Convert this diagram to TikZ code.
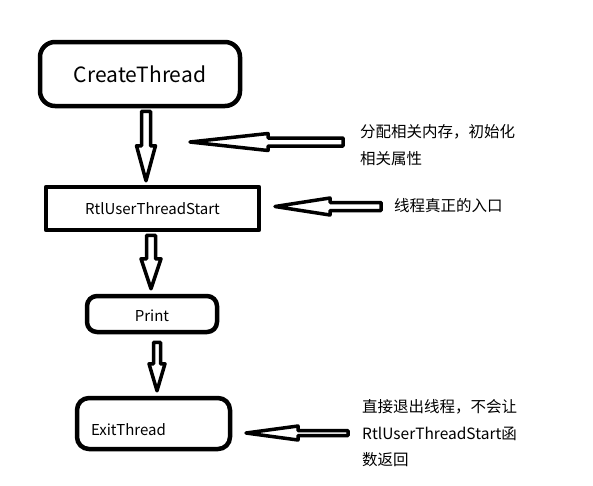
\documentclass[tikz,border=0pt]{standalone}
\usepackage{fontspec}
\setmainfont{Noto Sans CJK SC}
\usetikzlibrary{calc}
\newcommand{\hollowarrow}[5]{%
  \coordinate (hb) at ($(#2)!#3!(#1)$);
  \draw[fat] ($(#1)!#4!90:(#2)$) -- ($(hb)!#4!-90:(#1)$) -- ($(hb)!#5!-90:(#1)$) -- (#2)
    -- ($(hb)!#5!90:(#1)$) -- ($(hb)!#4!90:(#1)$) -- ($(#1)!#4!-90:(#2)$) -- cycle;}
\begin{document}
\begin{tikzpicture}[x=1pt, y=-1pt, line join=round,
  box/.style={draw, line width=4.5pt, inner sep=0pt, font=\fontsize{15}{18}\selectfont},
  fat/.style={draw, line width=3.5pt, fill=white},
  note/.style={anchor=west, align=left, inner sep=0pt, font=\fontsize{15.5}{26.5}\selectfont}]
\useasboundingbox (0,0) rectangle (593,485);
\node[box, rounded corners=15pt, minimum width=200pt, minimum height=64pt, font=\fontsize{21}{24}\selectfont] (create) at (140,74) {CreateThread};
\node[box, minimum width=213pt, minimum height=43pt] (rtl) at (152.5,208.5) {RtlUserThreadStart};
\node[box, rounded corners=10pt, minimum width=130pt, minimum height=36pt, text height=15pt, text depth=0pt] (print) at (152,314) {Print};
\node[box, rounded corners=12pt, minimum width=153pt, minimum height=51pt, text width=125pt, inner xsep=14pt, text height=24pt, text depth=0pt, align=left] (exit) at (153.5,423.5) {ExitThread};
\node[note] (note1) at (360,145) {分配相关内存，初始化\\相关属性};
\node[note] (note2) at (394,206) {线程真正的入口};
\node[note] (note3) at (362,433.5) {直接退出线程，不会让\\RtlUserThreadStart函\\数返回};
\coordinate (a1s) at ($(create.south)+(6,3)$);
\coordinate (a1e) at ($(rtl.north)+(-6.5,-4)$);
\coordinate (a2s) at ($(rtl.south)+(-1.5,3)$);
\coordinate (a2e) at ($(print.north)+(-1,-5)$);
\coordinate (a3s) at ($(print.south)+(5,8)$);
\coordinate (a3e) at ($(exit.north)+(3.5,-5)$);
\coordinate (s1) at (343,142);
\coordinate (t1) at (190,142);
\coordinate (s2) at (381,206.5);
\coordinate (t2) at (275,206.5);
\coordinate (s3) at (348,433);
\coordinate (t3) at (246,433);
\hollowarrow{a1s}{a1e}{35pt}{4.5pt}{9.5pt}
\hollowarrow{a2s}{a2e}{30pt}{4.5pt}{10pt}
\hollowarrow{a3s}{a3e}{27pt}{3.5pt}{8pt}
\hollowarrow{s1}{t1}{78pt}{4pt}{8.5pt}
\hollowarrow{s2}{t2}{55pt}{4pt}{8.5pt}
\hollowarrow{s3}{t3}{52pt}{2.5pt}{7pt}
\end{tikzpicture}
\end{document}
